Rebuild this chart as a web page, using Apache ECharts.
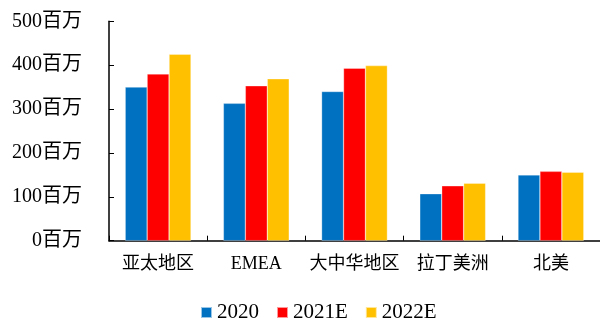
<!DOCTYPE html>
<html><head><meta charset="utf-8">
<script src="https://cdn.jsdelivr.net/npm/echarts@6/dist/echarts.min.js"></script>
<style>html,body{margin:0;padding:0;background:#fff}#c{width:600px;height:320px}</style>
</head><body><div id="c"></div>
<script>
const categories = ['亚太地区', 'EMEA', '大中华地区', '拉丁美洲', '北美'];
const s2020 = [350, 313, 340, 107, 150];
const s2021E = [380, 353, 393, 125, 158];
const s2022E = [425, 369, 399, 131, 156];
const seriesNames = ['2020', '2021E', '2022E'];
const yTicks = [0, 100, 200, 300, 400, 500];

const FONT = "'Liberation Serif', 'Noto Sans CJK SC', serif";
const colors = ['#0070C0', '#FF0000', '#FFC000'];
const chart = echarts.init(document.getElementById('c'));
const mk = (name, data, i) => ({
  name, type: 'bar', data, barGap: '0%', barCategoryGap: '33%',
  itemStyle: { color: colors[i], borderColor: 'rgba(255,255,255,0.6)', borderWidth: 0.5 }
});
chart.setOption({
  animation: false,
  grid: { left: 109, top: 21.3, width: 496.5, bottom: 79.3, containLabel: false },
  legend: {
    data: seriesNames, left: 200, top: 302, padding: 0, itemWidth: 11, itemHeight: 11, itemGap: 17,
    icon: 'rect', textStyle: { fontFamily: FONT, fontSize: 21, color: '#000' }
  },
  xAxis: {
    type: 'category', data: categories,
    axisLine: { lineStyle: { color: '#000', width: 1.5 } },
    axisTick: { show: true, inside: true, length: 5, lineStyle: { color: '#000' } },
    axisLabel: { interval: 0, fontFamily: FONT, fontSize: 18, color: '#000', margin: 15 }
  },
  yAxis: {
    type: 'value', min: yTicks[0], max: yTicks[yTicks.length - 1], interval: 100,
    splitLine: { show: false },
    axisLine: { show: true, lineStyle: { color: '#000', width: 1.5 } },
    axisTick: { show: true, inside: true, length: 5, lineStyle: { color: '#000' } },
    axisLabel: { fontFamily: FONT, fontSize: 20, color: '#000', margin: 27, formatter: v => v + '百万' }
  },
  series: [mk(seriesNames[0], s2020, 0), mk(seriesNames[1], s2021E, 1), mk(seriesNames[2], s2022E, 2)]
});
</script></body></html>
